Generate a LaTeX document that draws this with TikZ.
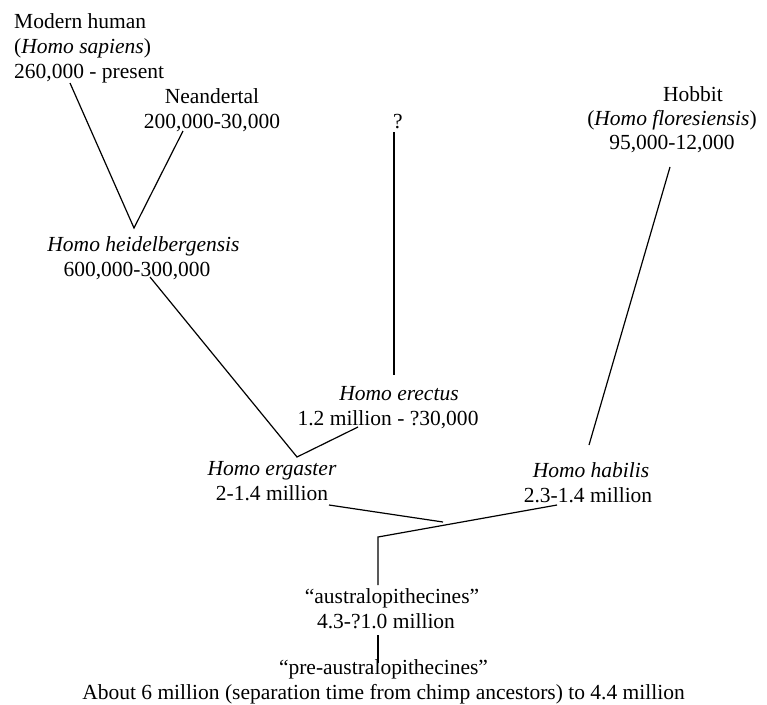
\documentclass[tikz,border=0pt]{standalone}
\usepackage{fontspec}
\setmainfont{Liberation Serif}
\begin{document}
\begin{tikzpicture}[x=1pt,y=-1pt,
  lbl/.style={inner sep=0pt, align=center, font=\fontsize{21.5}{25}\selectfont},
  lblL/.style={inner sep=0pt, align=left, font=\fontsize{21.5}{25}\selectfont},
  branch/.style={draw=black, line width=1.2pt}]
\useasboundingbox (0,0) rectangle (767,704);
% text blocks
\node[lblL, anchor=west] (sapiens) at (14,48) {Modern human\\(\textit{Homo sapiens})\\260,000 - present};
\node[lbl] (neander) at (212,110.5) {Neandertal\\200,000-30,000};
\node[lbl] (unknown) at (398,122) {?};
\node[lbl, font=\fontsize{21.5}{24}\selectfont] (hobbit) at (672,119.5) {\hspace*{42pt}Hobbit\\(\textit{Homo floresiensis})\\95,000-12,000};
\node[lbl] (heidel) at (143.5,258.5) {\textit{Homo heidelbergensis}\\600,000-300,000\hspace*{13pt}};
\node[lbl] (erectus) at (399,407.5) {\textit{Homo erectus}\\1.2 million - ?30,000\hspace*{22pt}};
\node[lbl] (ergaster) at (272,481.5) {\textit{Homo ergaster}\\2-1.4 million};
\node[lbl] (habilis) at (591,482.5) {\textit{Homo habilis}\\2.3-1.4 million\hspace*{6pt}};
\node[lbl] (austral) at (392,608.5) {``australopithecines''\\4.3-?1.0 million\hspace*{12pt}};
\node[lbl] (preaus) at (383.5,682) {``pre-australopithecines''\\About 6 million (separation time from chimp ancestors) to 4.4 million};
% connector end points
\coordinate (sapEnd) at (70,83);
\coordinate (neaEnd) at (183,131);
\coordinate (heiTop) at (134,228);
\coordinate (heiEnd) at (150,277);
\coordinate (ergTop) at (297,457);
\coordinate (ereEnd) at (358,427);
\coordinate (qTop) at (394,132);
\coordinate (qEnd) at (394,375);
\coordinate (hobEnd) at (670,167);
\coordinate (habTop) at (589,445);
\coordinate (ergEnd) at (329,505);
\coordinate (ergJoin) at (443,522);
\coordinate (habEnd) at (557,505);
\coordinate (root) at (378,537);
\coordinate (ausTop) at (378,585);
\coordinate (ausEnd) at (378,635);
\coordinate (preTop) at (378,663);
% connectors
\draw[branch] (sapEnd) -- (heiTop) -- (neaEnd);
\draw[branch] (heiEnd) -- (ergTop) -- (ereEnd);
\draw[branch] (qTop) -- (qEnd);
\draw[branch] (hobEnd) -- (habTop);
\draw[branch] (ergEnd) -- (ergJoin);
\draw[branch] (habEnd) -- (root) -- (ausTop);
\draw[branch] (ausEnd) -- (preTop);
\end{tikzpicture}
\end{document}
